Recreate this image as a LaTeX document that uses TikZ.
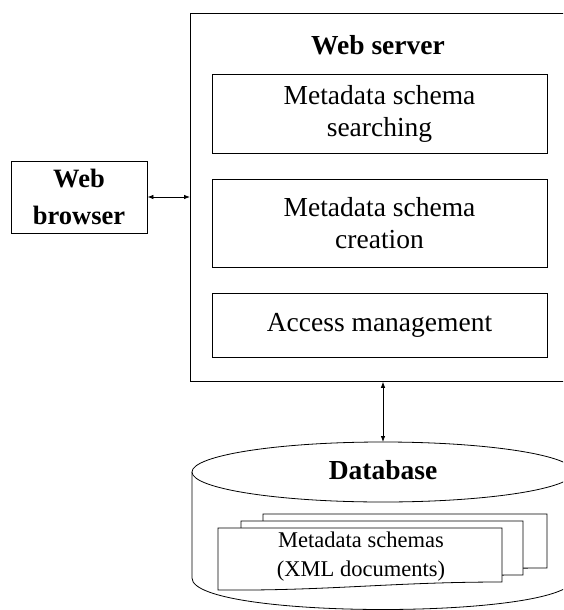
\documentclass[tikz,border=0pt]{standalone}
\usepackage{fontspec}
\setmainfont{Liberation Serif}
\usetikzlibrary{arrows.meta}
\begin{document}
\begin{tikzpicture}[x=1pt,y=1pt,line width=0.8pt,
  box/.style={draw, inner sep=0pt, align=center, font=\fontsize{27.5}{32}\selectfont},
  title/.style={inner sep=0pt, align=center, font=\fontsize{27.5}{36}\selectfont\bfseries},
  conn/.style={{Latex[length=6pt,width=4.5pt]}-{Latex[length=6pt,width=4.5pt]}, line width=0.8pt},
  doc/.style={draw, fill=white}]
\useasboundingbox (0,0) rectangle (563,-610);
\clip (0,0) rectangle (563,-610);
% web server
\node[draw, inner sep=0pt, minimum width=420pt, minimum height=368pt, anchor=north west] (server) at (190,-13) {};
\node[title] (servertitle) at (378,-45) {Web server};
\node[box, minimum width=335pt, minimum height=79pt] (search) at (379.5,-113.5) {Metadata schema\\searching};
\node[box, minimum width=335pt, minimum height=88pt] (create) at (379.5,-223) {Metadata schema\\creation};
\node[box, minimum width=335pt, minimum height=64pt] (access) at (379.5,-325) {Access management};
% web browser
\node[box, font=\fontsize{26.5}{37}\selectfont\bfseries, minimum width=136pt, minimum height=72pt] (browser) at (79,-197) {Web\\browser};
\draw[conn] (browser.east) -- (browser.east -| server.west);
% database cylinder
\coordinate (dbtop) at (383,-442);
\draw (192,-472) -- (192,-578) .. controls (192,-620) and (574,-620) .. (574,-578) -- (574,-472);
\draw[fill=white] (383,-472) ellipse[x radius=191, y radius=30];
\node[title] (dblabel) at (383,-470) {Database};
\draw[conn] (dbtop |- server.south) -- (dbtop);
% documents
\draw[doc] (263,-514) -- (547,-514) -- (547,-568) .. controls (437,-568) and (373,-577) .. (263,-576) -- cycle;
\draw[doc] (241,-521) -- (523,-521) -- (523,-575) .. controls (413,-575) and (351,-584) .. (241,-583) -- cycle;
\draw[doc] (218,-528) -- (502,-528) -- (502,-582) .. controls (392,-582) and (328,-591) .. (218,-590) -- cycle;
\node[inner sep=0pt, align=center, font=\fontsize{22.5}{29}\selectfont] (doctext) at (361,-557) {Metadata schemas\\(XML documents)};
\end{tikzpicture}
\end{document}
